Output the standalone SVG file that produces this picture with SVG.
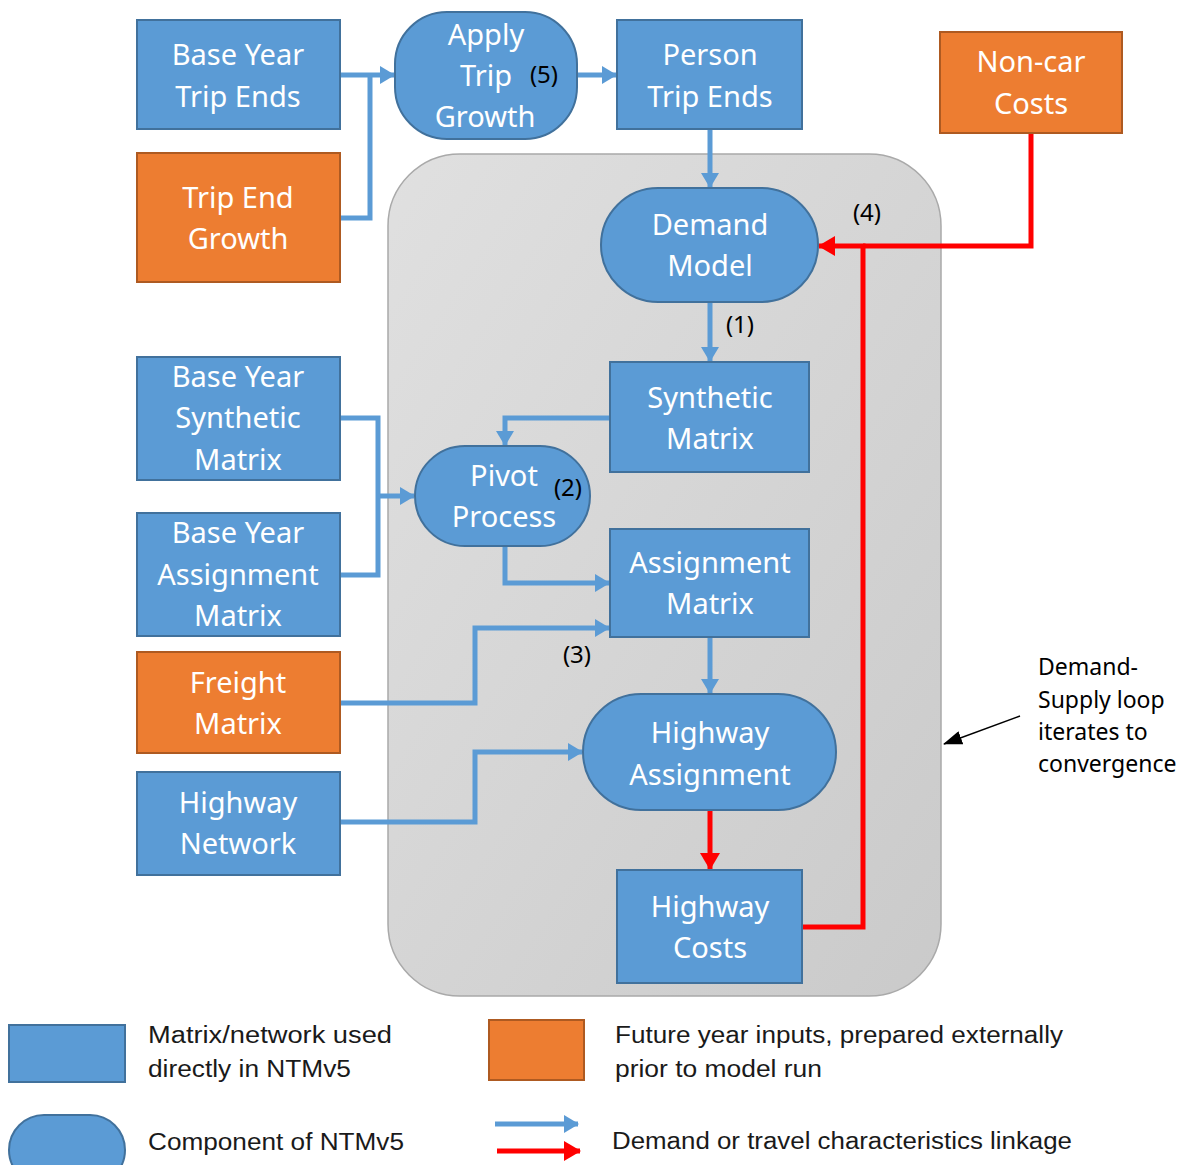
<svg xmlns="http://www.w3.org/2000/svg" width="1183" height="1165" viewBox="0 0 1183 1165">
  <defs>
    <linearGradient id="loopFill" x1="0" y1="0" x2="1" y2="1">
      <stop offset="0" stop-color="#e0e0e0"/>
      <stop offset="1" stop-color="#cacaca"/>
    </linearGradient>
    <marker id="arrowBlue" markerUnits="userSpaceOnUse" markerWidth="16" markerHeight="18" refX="14" refY="9" orient="auto">
      <path d="M0,0 L15,9 L0,18 Z" fill="#5b9bd5"/>
    </marker>
    <marker id="arrowRed" markerUnits="userSpaceOnUse" markerWidth="18" markerHeight="20" refX="16" refY="10" orient="auto">
      <path d="M0,0 L17,10 L0,20 Z" fill="#ff0000"/>
    </marker>
    <marker id="arrowBlack" markerUnits="userSpaceOnUse" markerWidth="20" markerHeight="14" refX="18" refY="7" orient="auto">
      <path d="M0,0 L19,7 L0,14 Z" fill="#000"/>
    </marker>
    <style>
      .box { fill: #5b9bd5; stroke: #41719c; stroke-width: 2; }
      .ext { fill: #ed7d31; stroke: #ae5a21; stroke-width: 2; }
      .lbl { font-family: "Noto Sans", "Open Sans", sans-serif; font-size: 29px; fill: #ffffff; text-anchor: middle; }
      .num { font-family: "Noto Sans", "Open Sans", sans-serif; font-size: 24px; fill: #000000; text-anchor: middle; }
      .note { font-family: "Noto Sans", "Open Sans", sans-serif; font-size: 23px; fill: #000000; }
      .key { font-family: "Liberation Sans", sans-serif; font-size: 23px; fill: #1a1a1a; }
      .blue { fill: none; stroke: #5b9bd5; stroke-width: 5; }
      .red { fill: none; stroke: #ff0000; stroke-width: 5; }
    </style>
  </defs>

  <!-- demand-supply loop container -->
  <rect x="388" y="154" width="553" height="842" rx="72" ry="72" fill="url(#loopFill)" stroke="#a9a9a9" stroke-width="1.5"/>

  <!-- connectors -->
  <g id="connectors">
    <path class="blue" d="M340,75 H394" marker-end="url(#arrowBlue)"/>
    <path class="blue" d="M340,218 H370 V75"/>
    <path class="blue" d="M577,75 H616" marker-end="url(#arrowBlue)"/>
    <path class="blue" d="M710,129 V187" marker-end="url(#arrowBlue)"/>
    <path class="blue" d="M710,302 V361" marker-end="url(#arrowBlue)"/>
    <path class="blue" d="M610,418 H505 V445" marker-end="url(#arrowBlue)"/>
    <path class="blue" d="M340,418 H378 V575 H340"/>
    <path class="blue" d="M378,496 H414" marker-end="url(#arrowBlue)"/>
    <path class="blue" d="M505,546 V583 H609" marker-end="url(#arrowBlue)"/>
    <path class="blue" d="M340,703 H475 V628 H609" marker-end="url(#arrowBlue)"/>
    <path class="blue" d="M710,637 V693" marker-end="url(#arrowBlue)"/>
    <path class="blue" d="M340,822 H475 V752 H582" marker-end="url(#arrowBlue)"/>
    <path class="red" d="M710,810 V869" marker-end="url(#arrowRed)"/>
    <path class="red" d="M802,927 H863 V246 H819" marker-end="url(#arrowRed)"/>
    <path class="red" d="M1031,133 V246 H863"/>
    <path d="M1020,716 L944,744" stroke="#000" stroke-width="1.5" fill="none" marker-end="url(#arrowBlack)"/>
  </g>

  <!-- nodes -->
  <g id="base-year-trip-ends">
    <rect class="box" x="137" y="20" width="203" height="109"/>
    <text class="lbl" x="238" y="65">Base Year</text>
    <text class="lbl" x="238" y="107">Trip Ends</text>
  </g>
  <g id="trip-end-growth">
    <rect class="ext" x="137" y="153" width="203" height="129"/>
    <text class="lbl" x="238" y="208">Trip End</text>
    <text class="lbl" x="238" y="249">Growth</text>
  </g>
  <g id="apply-trip-growth">
    <rect class="box" x="395" y="12" width="182" height="127" rx="52" ry="52"/>
    <text class="lbl" x="486" y="45">Apply</text>
    <text class="lbl" x="486" y="86">Trip</text>
    <text class="lbl" x="485" y="127">Growth</text>
  </g>
  <g id="person-trip-ends">
    <rect class="box" x="617" y="20" width="185" height="109"/>
    <text class="lbl" x="710" y="65">Person</text>
    <text class="lbl" x="710" y="107">Trip Ends</text>
  </g>
  <g id="non-car-costs">
    <rect class="ext" x="940" y="32" width="182" height="101"/>
    <text class="lbl" x="1031" y="72">Non-car</text>
    <text class="lbl" x="1031" y="114">Costs</text>
  </g>
  <g id="demand-model">
    <rect class="box" x="601" y="188" width="217" height="114" rx="57" ry="57"/>
    <text class="lbl" x="710" y="235">Demand</text>
    <text class="lbl" x="710" y="276">Model</text>
  </g>
  <g id="synthetic-matrix">
    <rect class="box" x="610" y="362" width="199" height="110"/>
    <text class="lbl" x="710" y="408">Synthetic</text>
    <text class="lbl" x="710" y="449">Matrix</text>
  </g>
  <g id="base-year-synthetic-matrix">
    <rect class="box" x="137" y="357" width="203" height="123"/>
    <text class="lbl" x="238" y="387">Base Year</text>
    <text class="lbl" x="238" y="428">Synthetic</text>
    <text class="lbl" x="238" y="470">Matrix</text>
  </g>
  <g id="base-year-assignment-matrix">
    <rect class="box" x="137" y="513" width="203" height="123"/>
    <text class="lbl" x="238" y="543">Base Year</text>
    <text class="lbl" x="238" y="585">Assignment</text>
    <text class="lbl" x="238" y="626">Matrix</text>
  </g>
  <g id="pivot-process">
    <rect class="box" x="415" y="446" width="175" height="100" rx="50" ry="50"/>
    <text class="lbl" x="504" y="486">Pivot</text>
    <text class="lbl" x="504" y="527">Process</text>
  </g>
  <g id="assignment-matrix">
    <rect class="box" x="610" y="529" width="199" height="108"/>
    <text class="lbl" x="710" y="573">Assignment</text>
    <text class="lbl" x="710" y="614">Matrix</text>
  </g>
  <g id="freight-matrix">
    <rect class="ext" x="137" y="652" width="203" height="101"/>
    <text class="lbl" x="238" y="693">Freight</text>
    <text class="lbl" x="238" y="734">Matrix</text>
  </g>
  <g id="highway-network">
    <rect class="box" x="137" y="772" width="203" height="103"/>
    <text class="lbl" x="238" y="813">Highway</text>
    <text class="lbl" x="238" y="854">Network</text>
  </g>
  <g id="highway-assignment">
    <rect class="box" x="583" y="694" width="253" height="116" rx="58" ry="58"/>
    <text class="lbl" x="710" y="743">Highway</text>
    <text class="lbl" x="710" y="785">Assignment</text>
  </g>
  <g id="highway-costs">
    <rect class="box" x="617" y="870" width="185" height="113"/>
    <text class="lbl" x="710" y="917">Highway</text>
    <text class="lbl" x="710" y="958">Costs</text>
  </g>

  <!-- step numbers, drawn over the nodes -->
  <g id="step-numbers">
    <text class="num" x="544" y="83">(5)</text>
    <text class="num" x="740" y="333">(1)</text>
    <text class="num" x="568" y="496">(2)</text>
    <text class="num" x="577" y="663">(3)</text>
    <text class="num" x="867" y="221">(4)</text>
  </g>

  <!-- loop note -->
  <g id="loop-note">
    <text class="note" x="1038" y="675">Demand-</text>
    <text class="note" x="1038" y="708">Supply loop</text>
    <text class="note" x="1038" y="740">iterates to</text>
    <text class="note" x="1038" y="772">convergence</text>
  </g>

  <!-- key -->
  <g id="key">
    <rect class="box" x="9" y="1025" width="116" height="57"/>
    <text class="key" x="148" y="1043" textLength="244" lengthAdjust="spacingAndGlyphs">Matrix/network used</text>
    <text class="key" x="148" y="1077" textLength="203" lengthAdjust="spacingAndGlyphs">directly in NTMv5</text>
    <rect class="ext" x="489" y="1020" width="95" height="60"/>
    <text class="key" x="615" y="1043" textLength="448" lengthAdjust="spacingAndGlyphs">Future year inputs, prepared externally</text>
    <text class="key" x="615" y="1077" textLength="207" lengthAdjust="spacingAndGlyphs">prior to model run</text>
    <rect class="box" x="9" y="1115" width="116" height="70" rx="35" ry="35"/>
    <text class="key" x="148" y="1150" textLength="256" lengthAdjust="spacingAndGlyphs">Component of NTMv5</text>
    <path class="blue" d="M495,1124 H578" marker-end="url(#arrowBlue)"/>
    <path class="red" d="M497,1151 H580" marker-end="url(#arrowRed)"/>
    <text class="key" x="612" y="1149" textLength="460" lengthAdjust="spacingAndGlyphs">Demand or travel characteristics linkage</text>
  </g>
</svg>
